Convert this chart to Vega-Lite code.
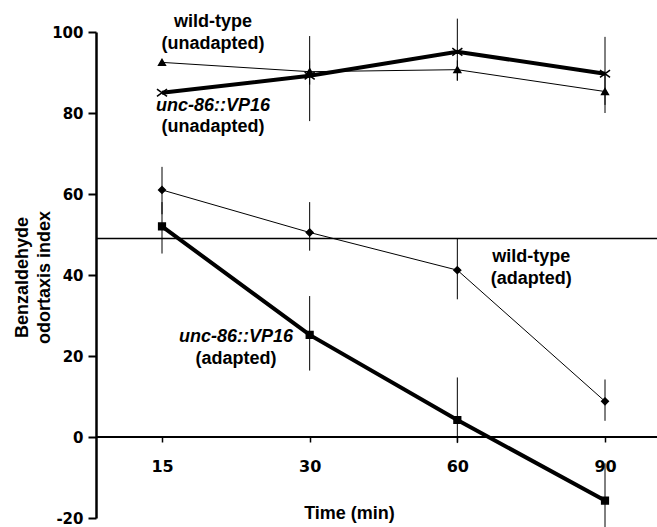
{
  "$schema": "https://vega.github.io/schema/vega-lite/v6.json",
  "width": 561,
  "height": 486,
  "autosize": "none",
  "padding": {"left": 96, "top": 32, "right": 0, "bottom": 9},
  "background": "white",
  "config": {"view": {"stroke": null}, "font": "Liberation Sans"},
  "datasets": {
    "main": [
      {"series": "wtU", "time": "15", "value": 92.5, "lo": 92.5, "hi": 92.5},
      {"series": "wtU", "time": "30", "value": 90.2, "lo": 87, "hi": 93},
      {"series": "wtU", "time": "60", "value": 90.7, "lo": 88, "hi": 93},
      {"series": "wtU", "time": "90", "value": 85.3, "lo": 80, "hi": 90},
      {"series": "vpU", "time": "15", "value": 85, "lo": 85, "hi": 85},
      {"series": "vpU", "time": "30", "value": 89.2, "lo": 78, "hi": 99},
      {"series": "vpU", "time": "60", "value": 95.1, "lo": 88, "hi": 103.3},
      {"series": "vpU", "time": "90", "value": 89.7, "lo": 82, "hi": 98.8},
      {"series": "wtA", "time": "15", "value": 61.0, "lo": 55, "hi": 66.7},
      {"series": "wtA", "time": "30", "value": 50.5, "lo": 46, "hi": 58},
      {"series": "wtA", "time": "60", "value": 41.2, "lo": 34, "hi": 49},
      {"series": "wtA", "time": "90", "value": 8.8, "lo": 4, "hi": 14.2},
      {"series": "vpA", "time": "15", "value": 52, "lo": 45.3, "hi": 58},
      {"series": "vpA", "time": "30", "value": 25.2, "lo": 16.4, "hi": 34.8},
      {"series": "vpA", "time": "60", "value": 4.2, "lo": -1.5, "hi": 14.7},
      {"series": "vpA", "time": "90", "value": -15.7, "lo": -25, "hi": -6.5}
    ]
  },
  "layer": [
    {
      "data": {"values": [{"value": 49}]},
      "mark": {"type": "rule", "color": "black", "strokeWidth": 1.5},
      "encoding": {
        "y": {"field": "value", "type": "quantitative", "scale": {"domain": [-20, 100], "nice": false, "zero": false},
          "axis": {"title": ["Benzaldehyde", "odortaxis index"], "values": [-20, 0, 20, 40, 60, 80, 100], "labelExpr": "replace(datum.label, '\u2212', '-')", "grid": false, "domainColor": "black", "domainWidth": 2.5, "tickColor": "black", "tickSize": 8, "tickWidth": 2, "labelFont": "DejaVu Sans", "labelFontSize": 15, "labelFontWeight": "bold", "labelColor": "black", "labelPadding": 5, "titleFont": "Liberation Sans", "titleFontSize": 18, "titleFontWeight": "bold", "titleColor": "black", "titleAngle": -90, "titleX": -74, "titleY": 245, "titleBaseline": "middle", "titleAlign": "center", "titleLineHeight": 22}}
      }
    },
    {
      "data": {"values": [{"value": 0}]},
      "mark": {"type": "rule", "color": "black", "strokeWidth": 2},
      "encoding": {
        "y": {"field": "value", "type": "quantitative"}
      }
    },
    {
      "data": {"name": "main"},
      "encoding": {
        "x": {"field": "time", "type": "ordinal", "sort": null, "scale": {"type": "point", "domain": ["15", "30", "60", "90"], "range": [66, 509], "padding": 0},
          "axis": {"title": "Time (min)", "offset": -81, "domain": false, "grid": false, "labelAngle": 0, "tickColor": "black", "tickSize": 5, "tickWidth": 1.5, "labelFont": "DejaVu Sans", "labelFontSize": 16, "labelFontWeight": "bold", "labelColor": "black", "labelPadding": 16, "titleFont": "Liberation Sans", "titleFontSize": 18, "titleFontWeight": "bold", "titleColor": "black", "titlePadding": 30, "titleX": 253, "titleAlign": "center"}}
      },
      "layer": [
        {
          "mark": {"type": "rule", "color": "black", "strokeWidth": 1, "clip": false},
          "encoding": {
            "y": {"field": "lo", "type": "quantitative"},
            "y2": {"field": "hi"}
          }
        },
        {
          "transform": [{"filter": "datum.series === 'wtU' || datum.series === 'wtA'"}],
          "mark": {"type": "line", "color": "black", "strokeWidth": 1},
          "encoding": {
            "y": {"field": "value", "type": "quantitative"},
            "detail": {"field": "series"}
          }
        },
        {
          "transform": [{"filter": "datum.series === 'vpU' || datum.series === 'vpA'"}],
          "mark": {"type": "line", "color": "black", "strokeWidth": 4},
          "encoding": {
            "y": {"field": "value", "type": "quantitative"},
            "detail": {"field": "series"}
          }
        },
        {
          "mark": {"type": "point", "filled": true, "fill": "black", "stroke": "black", "strokeWidth": 1.5, "opacity": 1, "size": 45, "clip": false},
          "encoding": {
            "y": {"field": "value", "type": "quantitative"},
            "shape": {"field": "series", "type": "nominal", "legend": null,
              "scale": {"domain": ["wtU", "vpU", "wtA", "vpA"], "range": ["triangle-up", "M-1.5,-1.1L1.5,1.1M1.5,-1.1L-1.5,1.1", "diamond", "square"]}}
          }
        }
      ]
    },
    {
      "data": {"values": [
        {"time": "15", "y": 102.5, "label": "wild-type"},
        {"time": "15", "y": 97.0, "label": "(unadapted)"},
        {"time": "15", "y": 76.6, "label": "(unadapted)"}
      ]},
      "mark": {"type": "text", "font": "Liberation Sans", "fontSize": 18, "fontWeight": "bold", "align": "center", "baseline": "middle", "dx": 51, "color": "black", "clip": false},
      "encoding": {
        "x": {"field": "time", "type": "ordinal", "sort": null},
        "y": {"field": "y", "type": "quantitative"},
        "text": {"field": "label"}
      }
    },
    {
      "data": {"values": [
        {"time": "15", "y": 81.8, "label": "unc-86::VP16"}
      ]},
      "mark": {"type": "text", "font": "Liberation Sans", "fontSize": 18, "fontWeight": "bold", "fontStyle": "italic", "align": "center", "baseline": "middle", "dx": 51, "color": "black", "clip": false},
      "encoding": {
        "x": {"field": "time", "type": "ordinal", "sort": null},
        "y": {"field": "y", "type": "quantitative"},
        "text": {"field": "label"}
      }
    },
    {
      "data": {"values": [
        {"time": "15", "y": 24.8, "label": "unc-86::VP16"}
      ]},
      "mark": {"type": "text", "font": "Liberation Sans", "fontSize": 18, "fontWeight": "bold", "fontStyle": "italic", "align": "center", "baseline": "middle", "dx": 74, "color": "black", "clip": false},
      "encoding": {
        "x": {"field": "time", "type": "ordinal", "sort": null},
        "y": {"field": "y", "type": "quantitative"},
        "text": {"field": "label"}
      }
    },
    {
      "data": {"values": [
        {"time": "15", "y": 19.3, "label": "(adapted)"}
      ]},
      "mark": {"type": "text", "font": "Liberation Sans", "fontSize": 18, "fontWeight": "bold", "align": "center", "baseline": "middle", "dx": 74, "color": "black", "clip": false},
      "encoding": {
        "x": {"field": "time", "type": "ordinal", "sort": null},
        "y": {"field": "y", "type": "quantitative"},
        "text": {"field": "label"}
      }
    },
    {
      "data": {"values": [
        {"time": "60", "y": 44.4, "label": "wild-type"},
        {"time": "60", "y": 39.0, "label": "(adapted)"}
      ]},
      "mark": {"type": "text", "font": "Liberation Sans", "fontSize": 18, "fontWeight": "bold", "align": "center", "baseline": "middle", "dx": 74, "color": "black", "clip": false},
      "encoding": {
        "x": {"field": "time", "type": "ordinal", "sort": null},
        "y": {"field": "y", "type": "quantitative"},
        "text": {"field": "label"}
      }
    }
  ]
}
